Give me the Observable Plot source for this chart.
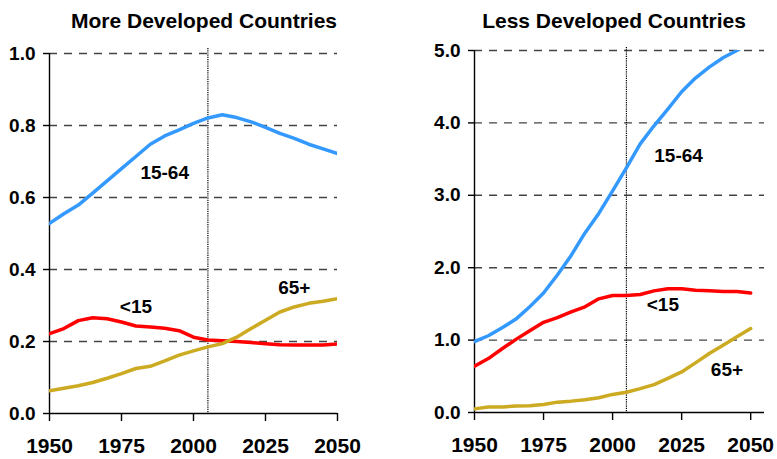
<!DOCTYPE html>
<html>
<head>
<meta charset="utf-8">
<script src="https://cdn.jsdelivr.net/npm/d3@7"></script>
<script src="https://cdn.jsdelivr.net/npm/@observablehq/plot@0.6"></script>
<style>
  html, body { margin: 0; padding: 0; background: #fff; }
  #wrap { position: relative; width: 777px; height: 459px; overflow: hidden;
          font-family: "Liberation Sans", Arial, sans-serif; }
  .title { position: absolute; width: 400px; text-align: center; font-size: 21px;
           font-weight: bold; line-height: 21px; color: #000; white-space: nowrap; }
  .panel { position: absolute; top: 0; }
  .panel text { font-weight: bold; }
</style>
</head>
<body>
<div id="wrap"></div>
<script>
// ---- data ----
const years = [1950, 1955, 1960, 1965, 1970, 1975, 1980, 1985, 1990, 1995, 2000,
               2005, 2010, 2015, 2020, 2025, 2030, 2035, 2040, 2045, 2050];

const titles = ["More Developed Countries", "Less Developed Countries"];
const seriesNames = ["15-64", "<15", "65+"];
const seriesColors = ["#3399ff", "#ff0000", "#ccaa22"];

// More developed countries (billions)
const mdc1564 = [0.528, 0.555, 0.579, 0.612, 0.646, 0.680, 0.714, 0.748, 0.771, 0.788, 0.806,
                 0.821, 0.830, 0.822, 0.810, 0.795, 0.778, 0.764, 0.748, 0.735, 0.722];
const mdcU15  = [0.222, 0.236, 0.258, 0.266, 0.263, 0.254, 0.243, 0.240, 0.237, 0.230, 0.212,
                 0.204, 0.202, 0.200, 0.197, 0.194, 0.191, 0.190, 0.190, 0.190, 0.193];
const mdc65   = [0.063, 0.070, 0.077, 0.086, 0.098, 0.111, 0.125, 0.131, 0.146, 0.162, 0.174,
                 0.185, 0.194, 0.212, 0.236, 0.259, 0.282, 0.296, 0.306, 0.312, 0.319];

// Less developed countries (billions)
const ldc1564 = [0.98, 1.06, 1.17, 1.29, 1.46, 1.65, 1.90, 2.17, 2.48, 2.75, 3.06,
                 3.38, 3.71, 3.96, 4.19, 4.43, 4.62, 4.77, 4.90, 5.00, 5.12];
const ldcU15  = [0.64, 0.745, 0.88, 1.01, 1.13, 1.245, 1.31, 1.39, 1.46, 1.57, 1.615,
                 1.615, 1.63, 1.68, 1.71, 1.71, 1.69, 1.68, 1.67, 1.67, 1.65];
const ldc65   = [0.05, 0.075, 0.075, 0.09, 0.093, 0.11, 0.143, 0.157, 0.176, 0.204, 0.25,
                 0.28, 0.33, 0.385, 0.47, 0.56, 0.685, 0.815, 0.93, 1.045, 1.16];

// tick labels
const xTicks = [1950, 1975, 2000, 2025, 2050];
const mdcYTicks = [0.0, 0.2, 0.4, 0.6, 0.8, 1.0];
const ldcYTicks = [0.0, 1.0, 2.0, 3.0, 4.0, 5.0];
const projectionYear = 2005;

// in-chart series labels
const mdcLabelYears = [1990, 1980, 2035];
const mdcLabelValues = [0.667, 0.297, 0.349];
const ldcLabelYears = [2023.9, 2018.2, 2041.4];
const ldcLabelValues = [3.546, 1.48, 0.583];

// ---- build ----
function rows(seriesArrays) {
  const out = [];
  seriesArrays.forEach((arr, s) => arr.forEach((v, i) => out.push({year: years[i], value: v, series: seriesNames[s]})));
  return out;
}
function labelRows(ys, vs) {
  return ys.map((y, i) => ({year: y, value: vs[i], text: seriesNames[i]}));
}

const wrap = document.getElementById("wrap");

function makePanel(cfg) {
  const data = rows(cfg.series);
  const labels = labelRows(cfg.labelYears, cfg.labelValues);
  const yMax = cfg.yTicks[cfg.yTicks.length - 1];
  const chart = Plot.plot({
    width: cfg.width,
    height: 459,
    marginLeft: cfg.marginLeft,
    marginRight: cfg.marginRight,
    marginTop: cfg.marginTop,
    marginBottom: cfg.marginBottom,
    style: {fontFamily: "'Liberation Sans', Arial, sans-serif", fontWeight: "bold", color: "#000", background: "transparent", overflow: "visible"},
    x: {domain: cfg.xDomain},
    y: {domain: [0, yMax]},
    color: {domain: seriesNames, range: seriesColors},
    marks: [
      Plot.ruleY(cfg.yTicks.slice(1), {stroke: "#444", strokeWidth: 1.4, strokeDasharray: "8,7"}),
      Plot.ruleX([projectionYear], {stroke: "#000", strokeWidth: 1.2, strokeDasharray: "1.2,1", insetTop: cfg.dotTop}),
      Plot.ruleX([years[0]], {stroke: "#000", strokeWidth: 1.4}),
      Plot.ruleY([0], {stroke: "#000", strokeWidth: 1.4}),
      Plot.axisY(cfg.yTicks, {tickSize: 6, tickPadding: 8, fontSize: 19, fontWeight: "bold", tickFormat: d => d.toFixed(1), label: null, strokeWidth: 1.4}),
      Plot.axisX(xTicks, {tickSize: 8, tickPadding: 17, fontSize: 21, fontWeight: "bold", tickFormat: d => String(d), label: null, strokeWidth: 1.4}),
      Plot.line(data, {x: "year", y: "value", z: "series", stroke: "series", strokeWidth: 3.5, clip: true}),
      Plot.text(labels, {x: "year", y: "value", text: "text", fontSize: 19, fontWeight: "bold", fill: "#000"})
    ]
  });
  chart.classList.add("panel");
  chart.style.left = cfg.left + "px";
  wrap.appendChild(chart);

  const t = document.createElement("div");
  t.className = "title";
  t.textContent = cfg.title;
  t.style.left = (cfg.titleCenter - 200) + "px";
  t.style.top = "10px";
  wrap.appendChild(t);
}

makePanel({
  title: titles[0], titleCenter: 204, left: 0, width: 390,
  marginLeft: 49, marginRight: 53, marginTop: 53, marginBottom: 46,
  xDomain: [1950, 2050], yTicks: mdcYTicks, dotTop: -5,
  series: [mdc1564, mdcU15, mdc65],
  labelYears: mdcLabelYears, labelValues: mdcLabelValues
});
makePanel({
  title: titles[1], titleCenter: 614, left: 390, width: 387,
  marginLeft: 84, marginRight: 13, marginTop: 50, marginBottom: 47,
  xDomain: [1950, 2055], yTicks: ldcYTicks, dotTop: -3,
  series: [ldc1564, ldcU15, ldc65],
  labelYears: ldcLabelYears, labelValues: ldcLabelValues
});
</script>
</body>
</html>
